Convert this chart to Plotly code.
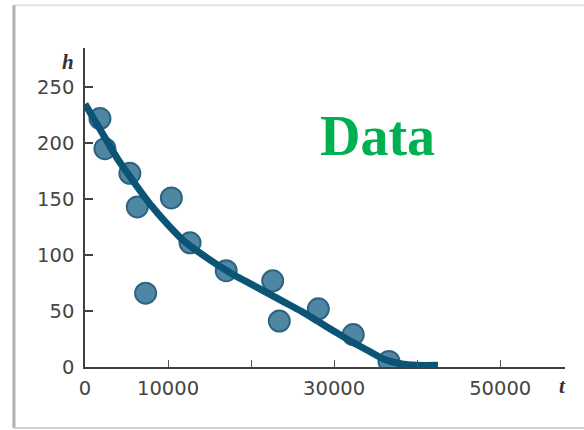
import plotly.graph_objects as go

# Data points
t_points = [1800, 2400, 5400, 6300, 10400, 7300, 12650, 17000, 22600, 23400, 28100, 32300, 36600]
h_points = [222, 195, 173, 143, 151, 66, 111, 86, 77, 41, 52, 29, 5]

# Fitted curve
t_curve = [0, 2000, 4000, 6000, 8000, 10000, 12000, 14000, 16000, 18000, 20000,
           22000, 24000, 26000, 28000, 30000, 32000, 34000, 36000, 38000, 40000, 42500]
h_curve = [235, 210, 185, 164, 144, 127, 112, 101, 91, 82, 74,
           66, 58, 50, 41, 32, 23, 15, 7, 3, 1.5, 1.5]

x_tickvals = [0, 10000, 20000, 30000, 40000, 50000]
x_ticktext = ["0", "10000", "", "30000", "", "50000"]
y_tickvals = [0, 50, 100, 150, 200, 250]
y_ticktext = ["0", "50", "100", "150", "200", "250"]

fig = go.Figure()
fig.add_trace(go.Scatter(
    x=t_points, y=h_points, mode="markers",
    marker=dict(size=21, color="#4f86a3", line=dict(color="#2d6480", width=2)),
    showlegend=False, hoverinfo="skip"))
fig.add_trace(go.Scatter(
    x=t_curve, y=h_curve, mode="lines",
    line=dict(color="#0b5475", width=7, shape="spline", smoothing=0.6),
    showlegend=False, hoverinfo="skip"))

tick_font = dict(family="DejaVu Sans", size=19.5, color="#454545")

fig.update_layout(
    width=584, height=430,
    margin=dict(l=85, r=19, t=48, b=63),
    paper_bgcolor="white", plot_bgcolor="white",
    xaxis=dict(range=[0, 57800], showgrid=False, zeroline=False,
               showline=True, linecolor="#404040", linewidth=1.5,
               ticks="inside", ticklen=7, tickcolor="#555", tickwidth=1,
               tickvals=x_tickvals, ticktext=x_ticktext, tickfont=tick_font,
               ticklabelstandoff=3, fixedrange=True),
    yaxis=dict(range=[0, 285], showgrid=False, zeroline=False,
               showline=True, linecolor="#404040", linewidth=1.5,
               ticks="inside", ticklen=8, tickcolor="#404040", tickwidth=1.5,
               tickvals=y_tickvals, ticktext=y_ticktext, tickfont=tick_font,
               ticklabelstandoff=5, fixedrange=True),
    shapes=[
        # card frame
        dict(type="line", xref="paper", yref="paper", x0=-0.148, x1=1.1, y0=1.134, y1=1.134,
             line=dict(color="#e6e6e6", width=2), layer="below"),
        dict(type="line", xref="paper", yref="paper", x0=-0.148, x1=-0.148, y0=1.134, y1=-0.191,
             line=dict(color="#b0b0b0", width=3), layer="below"),
        dict(type="line", xref="paper", yref="paper", x0=-0.148, x1=1.1, y0=-0.191, y1=-0.191,
             line=dict(color="#cfcfcf", width=2), layer="below"),
    ],
    annotations=[
        dict(text="<i><b>h</b></i>", xref="paper", yref="paper", x=-0.035, y=0.956,
             xanchor="center", yanchor="middle", showarrow=False,
             font=dict(family="Liberation Serif", size=21, color="#333")),
        dict(text="<i><b>t</b></i>", xref="paper", yref="paper", x=0.994, y=-0.058,
             xanchor="center", yanchor="middle", showarrow=False,
             font=dict(family="Liberation Serif", size=21, color="#333")),
        dict(text="<b>Data</b>", xref="paper", yref="paper", x=0.61, y=0.724,
             xanchor="center", yanchor="middle", showarrow=False,
             font=dict(family="Liberation Serif", size=56, color="#00b050")),
    ],
)

fig.write_html("out.html")
